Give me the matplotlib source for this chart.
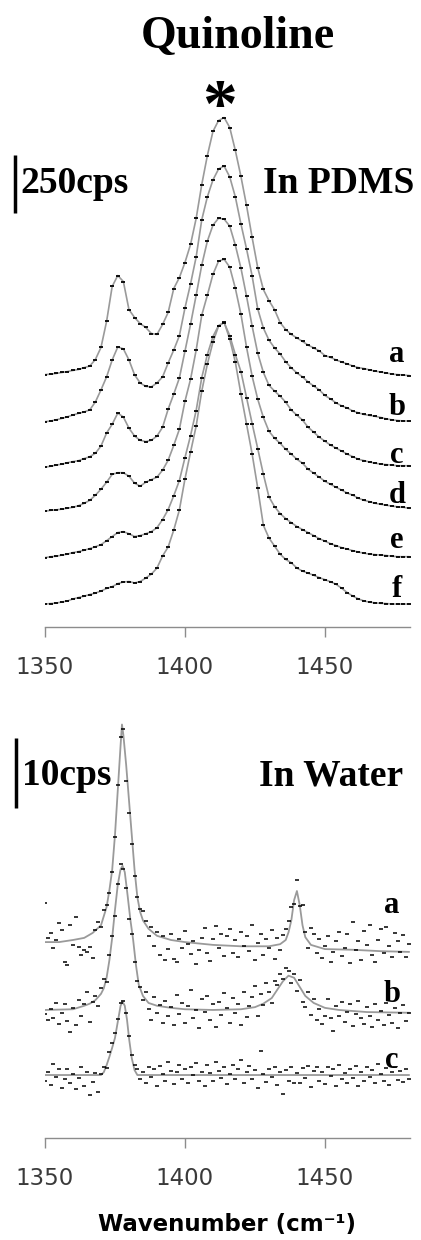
import matplotlib
matplotlib.use('Agg')
import matplotlib.pyplot as plt
import numpy as np

# --- quinoline Raman band, stacked spectra -------------------------------

# PDMS spectra (cps above own baseline), sampled every 2 cm-1
wn_pdms = np.arange(1350, 1481, 2)
pdms_a = [4, 6, 9, 13, 17, 22, 26, 34, 41, 69,
          121, 233, 384, 431, 405, 284, 250, 224, 207, 181,
          177, 220, 272, 375, 422, 487, 565, 677, 823, 948,
          1052, 1099, 1112, 1069, 970, 858, 733, 595, 465, 371,
          323, 284, 228, 198, 177, 162, 147, 131, 119, 106,
          86, 78, 67, 58, 50, 41, 34, 30, 24, 19,
          15, 11, 6, 4, 2, 0]
pdms_b = [1, 4, 9, 15, 22, 30, 37, 43, 52, 86,
          138, 194, 267, 323, 315, 267, 203, 168, 153, 151,
          168, 194, 254, 310, 371, 491, 595, 711, 871, 970,
          1043, 1090, 1103, 1056, 970, 853, 746, 629, 487, 405,
          353, 319, 293, 259, 233, 211, 194, 172, 155, 138,
          114, 99, 82, 69, 60, 47, 39, 32, 28, 24,
          19, 13, 9, 6, 4, 4]
pdms_c = [0, 4, 9, 13, 19, 24, 28, 37, 45, 60,
          91, 147, 185, 233, 216, 168, 134, 116, 110, 116,
          134, 172, 250, 315, 384, 500, 616, 741, 871, 974,
          1043, 1073, 1069, 1039, 957, 858, 737, 608, 491, 409,
          353, 328, 306, 280, 246, 224, 203, 172, 151, 129,
          112, 95, 82, 69, 56, 45, 34, 28, 22, 17,
          13, 11, 9, 6, 6, 6]
pdms_d = [0, 4, 6, 9, 13, 17, 24, 34, 47, 69,
          95, 125, 159, 166, 166, 151, 121, 108, 125, 136,
          147, 177, 220, 284, 353, 474, 569, 694, 845, 931,
          1021, 1078, 1086, 1052, 961, 849, 707, 582, 483, 405,
          345, 315, 293, 267, 246, 224, 207, 181, 164, 147,
          129, 116, 103, 91, 78, 69, 56, 47, 41, 34,
          30, 26, 22, 19, 17, 13]
pdms_e = [0, 4, 6, 11, 15, 22, 26, 32, 39, 47,
          56, 73, 91, 108, 112, 103, 91, 95, 103, 112,
          129, 164, 207, 267, 332, 431, 526, 634, 776, 875,
          953, 1000, 1013, 957, 875, 802, 690, 578, 470, 360,
          262, 220, 190, 168, 151, 134, 121, 108, 95, 82,
          71, 60, 52, 43, 37, 30, 24, 19, 15, 13,
          11, 9, 6, 4, 4, 4]
pdms_f = [0, 2, 4, 9, 13, 22, 28, 34, 41, 47,
          56, 67, 75, 88, 95, 97, 91, 97, 112, 129,
          155, 207, 246, 319, 405, 539, 655, 767, 918, 1034,
          1129, 1198, 1215, 1142, 1043, 905, 776, 647, 500, 340,
          285, 250, 215, 192, 178, 155, 142, 133, 124, 114,
          105, 96, 85, 68, 49, 34, 22, 13, 8, 5,
          3, 2, 0, 0, 0, 0]
pdms_labels = ['a', 'b', 'c', 'd', 'e', 'f']
pdms_offsets = [985, 785, 590, 400, 200, 0]

# Water spectra: measured points every 1 cm-1 plus fitted curves
wn_water = np.arange(1350, 1481, 1)
water_a_pts = [5.6, 0.6, 1.3, -0.9, 0.3, 2.7, 1.7, -2.8, -3.3, 2.4,
               -0.4, 3.6, -0.7, -1.9, -1.1, -1.4, -0.7, -2.3, 1.7, 2.9,
               2.2, 4.6, 5.3, 7.0, 10.0, 15.0, 22.5, 29.3, 30.4, 23.0,
               18.5, 14.0, 9.5, 6.5, 4.8, 4.5, 3.0, 0.8, 2.2, -0.6,
               1.5, -1.8, 0.9, -2.6, -1.0, 1.2, -2.4, -2.9, 0.4, -0.8,
               1.6, -0.3, -1.7, 0.2, -3.1, -1.2, 0.6, 2.0, -1.5, -2.7,
               0.5, 2.3, -0.9, 1.1, -2.0, 0.8, 1.8, -1.6, 0.3, -2.2,
               1.4, -0.5, 0.9, -1.3, 2.5, -2.6, -0.2, 1.2, -1.9, 0.4,
               -0.8, 1.7, -2.4, 0.6, -1.1, 1.0, 1.9, 3.0, 5.0, 5.4,
               8.9, 5.2, 5.3, 1.5, -0.8, 2.0, 1.2, -1.6, 0.4, -2.3,
               -0.6, 0.9, -2.8, -1.4, 0.2, 1.5, -2.0, -0.9, 1.1, -3.0,
               2.8, -1.2, 0.1, -2.5, 1.6, -0.4, 2.4, -1.9, -2.9, 0.3,
               1.9, -1.6, 2.1, -0.5, -2.2, 1.3, 0.2, -1.4, 1.0, -2.1,
               -0.3]
water_b_pts = [-0.6, -1.5, 0.2, -1.2, 1.0, -2.0, -0.4, 0.8, -1.6, -3.1,
               0.3, -2.2, 1.4, -0.8, 0.9, 2.5, -1.7, 1.2, 2.0, 0.6,
               3.2, 4.4, 4.0, 7.8, 10.5, 13.5, 18.0, 20.9, 20.2, 17.5,
               13.0, 10.8, 6.9, 4.1, 3.3, 1.4, 2.6, 0.2, -1.4, 1.9,
               -0.5, 0.7, -1.9, 1.3, -0.9, 0.4, -2.1, 2.2, -0.6, 1.0,
               -1.8, 0.5, 2.8, -1.1, 0.0, -2.6, 1.6, -0.3, 2.0, -1.5,
               0.8, -2.4, 1.2, -0.7, 2.4, 0.3, -1.9, 1.7, -0.4, 0.9,
               -2.2, 2.6, -1.0, 0.5, 1.8, 3.4, -0.8, 2.3, 0.7, 3.9,
               2.5, 1.0, 4.2, 3.6, 5.2, 4.4, 6.0, 5.6, 3.8, 5.1,
               2.7, 4.3, 1.2, 0.4, 2.6, -0.7, 1.6, -1.4, 0.2, -2.0,
               -0.9, 1.5, -1.2, -3.0, 0.6, -0.8, 1.1, -1.7, -0.3, 0.9,
               -2.3, -0.6, 1.3, -1.1, -2.0, 0.4, -0.9, -2.5, 0.8, -1.4,
               -0.2, -2.1, 1.0, -0.7, -1.8, 0.3, -2.6, -0.5, 0.7, -1.6,
               -0.4]
water_c_pts = [-0.8, 0.5, -1.4, 1.6, -0.3, 0.9, -1.9, -0.6, 0.8, -1.2,
               0.2, -2.0, -0.4, 1.1, -1.5, 0.5, -2.8, -1.0, 0.3, -2.4,
               0.1, 1.2, 1.0, 3.3, 4.6, 6.0, 8.0, 10.3, 10.6, 8.9,
               5.6, 2.9, 1.5, 0.8, -0.6, 0.4, -1.1, 1.2, -0.3, 0.9,
               -1.5, 1.3, 0.2, -0.9, 1.8, 0.6, -1.3, 0.4, 1.5, -0.5,
               0.9, -1.2, 1.1, 0.0, 1.7, -0.8, 0.5, -1.6, 1.4, 0.3,
               -0.9, 1.9, 0.6, -0.4, 1.2, -1.3, 0.2, 1.5, -0.6, 0.8,
               2.1, -1.1, 0.4, 1.3, -0.5, 0.7, -1.8, 3.5, 0.2, -1.0,
               0.9, -0.3, 1.2, -1.4, 0.5, -2.7, 0.7, -0.9, 1.1, -1.2,
               0.3, -1.2, 1.0, -0.4, 1.3, -1.7, 0.6, 1.1, -0.8, 0.4,
               -1.3, 1.2, -0.2, 0.8, -1.5, 1.4, -0.6, 0.3, -1.1, 0.9,
               -0.4, 1.3, -1.6, 0.5, -0.9, 1.1, -0.3, 0.7, -1.2, 1.6,
               0.2, -0.8, 1.0, -1.4, 0.4, 1.2, -0.7, 0.6, -1.0, 0.8,
               -0.5]

water_a_fit_x = [1350, 1355, 1360, 1364, 1367, 1370, 1372, 1373, 1374, 1375,
                 1376, 1377, 1377.5, 1378, 1379, 1380, 1381, 1382, 1383, 1384,
                 1385, 1387, 1390, 1395, 1400, 1410, 1420, 1430, 1434, 1436,
                 1437, 1438, 1439, 1440, 1441, 1442, 1443, 1445, 1450, 1460,
                 1470, 1480]
water_a_fit = [0, 0, 0.3, 0.6, 1.3, 2.4, 5.0, 7.4, 10.3, 15.3,
               21.7, 28.1, 31.1, 29.6, 25.3, 20.3, 15.3, 10.3, 6.4, 4.3,
               3.1, 1.9, 0.9, 0.3, 0, -0.4, -0.6, -0.6, -0.3, 0.3,
               1.4, 3.1, 6.0, 7.3, 5.3, 2.4, 0.7, -0.4, -1.0, -1.1,
               -1.3, -1.4]
water_b_fit_x = [1350, 1360, 1364, 1366, 1368, 1370, 1371, 1372, 1373, 1374,
                 1375, 1376, 1377, 1377.7, 1378.5, 1379.5, 1380.5, 1381.5, 1382.5, 1383.5,
                 1385, 1387, 1390, 1395, 1400, 1410, 1420, 1425, 1428, 1431,
                 1433, 1435, 1437, 1439, 1441, 1443, 1446, 1450, 1455, 1465,
                 1480]
water_b_fit = [0, 0.1, 0.6, 0.9, 1.4, 2.3, 3.1, 4.6, 7.1, 10.3,
               14.3, 17.9, 20.1, 20.6, 19.7, 16.4, 12.9, 10.0, 6.4, 3.6,
               2.0, 1.0, 0.6, 0.3, 0.1, 0, 0.1, 0.4, 0.9, 1.7,
               2.9, 4.1, 4.9, 4.6, 3.3, 2.0, 1.0, 0.3, 0, -0.3,
               -0.4]
water_c_fit_x = [1350, 1370, 1371, 1372, 1373, 1374, 1375, 1376, 1377, 1377.7,
                 1378.5, 1379.3, 1380.1, 1381, 1382, 1383, 1480]
water_c_fit = [0, 0, 0.4, 1.4, 2.6, 3.9, 5.3, 7.6, 9.9, 10.5,
               9.9, 7.9, 5.0, 2.4, 0.7, 0, 0]
water_labels = ['a', 'b', 'c']
water_offsets = [28.0, 18.3, 9.0]

# --- styling -------------------------------------------------------------
FIT_GREY = '#9a9a9a'
AXIS_GREY = '#8c8c8c'
SERIF = 'Liberation Serif'

fig = plt.figure(figsize=(4.21, 12.4), dpi=100)
ax1 = fig.add_axes([45 / 421, 1 - 627 / 1240, 365 / 421, 567 / 1240])
ax2 = fig.add_axes([45 / 421, 1 - 1138 / 1240, 365 / 421, 438 / 1240])


def style_axis(ax):
    for side in ('left', 'right', 'top'):
        ax.spines[side].set_visible(False)
    ax.spines['bottom'].set_color(AXIS_GREY)
    ax.spines['bottom'].set_linewidth(1.0)
    ax.set_yticks([])
    ax.set_xticks([1350, 1400, 1450])
    ax.tick_params(axis='x', direction='out', length=7, width=1.0, color=AXIS_GREY,
                   pad=14, labelsize=16.5, labelcolor='#3a3a3a')
    ax.set_xlim(1350, 1480.4)
    ax.patch.set_alpha(0)


def serif_text(ax, x, y, s, size, ha='left'):
    ax.text(x, y, s, fontfamily=SERIF, fontweight='bold', fontsize=size,
            ha=ha, va='baseline', clip_on=False)


style_axis(ax1)
style_axis(ax2)

# PDMS panel
ax1.set_ylim(-99, 2345)
pdms_spectra = [pdms_a, pdms_b, pdms_c, pdms_d, pdms_e, pdms_f]
pdms_label_y = [1044, 815, 608, 435, 241, 30]
for vals, off, lab, ly in zip(pdms_spectra, pdms_offsets, pdms_labels, pdms_label_y):
    y = np.array(vals) + off
    ax1.plot(wn_pdms, y, color=FIT_GREY, lw=1.2, zorder=2)
    ax1.plot(wn_pdms, y, ls='none', marker='_', ms=3.4, mew=1.3, color='black', zorder=3)
    serif_text(ax1, 1475.7, ly, lab, 22, ha='center')

ax1.plot([1339.3, 1339.3], [1685, 1935], color='black', lw=2.5,
         solid_capstyle='butt', clip_on=False)
serif_text(ax1, 1341.1, 1772, '250cps', 27)
serif_text(ax1, 1482.1, 1772, 'In PDMS', 27, ha='right')
serif_text(ax1, 1412.3, 2056, '*', 50, ha='center')

# water panel
ax2.set_ylim(0, 62.6)
water_fits = [(water_a_fit_x, water_a_fit), (water_b_fit_x, water_b_fit),
              (water_c_fit_x, water_c_fit)]
water_pts = [water_a_pts, water_b_pts, water_c_pts]
water_label_y = [32.1, 19.5, 10.0]
for (fx, fy), pts, off, lab, ly in zip(water_fits, water_pts, water_offsets,
                                       water_labels, water_label_y):
    ax2.plot(fx, np.array(fy) + off, color=FIT_GREY, lw=1.3, zorder=2)
    ax2.plot(wn_water, np.array(pts) + off, ls='none', marker='_', ms=2.8, mew=1.1,
             color='black', zorder=3)
    serif_text(ax2, 1474.0, ly, lab, 22, ha='center')

ax2.plot([1339.6, 1339.6], [47.1, 57.1], color='black', lw=2.5,
         solid_capstyle='butt', clip_on=False)
serif_text(ax2, 1341.8, 50.4, '10cps', 27)
serif_text(ax2, 1477.9, 50.4, 'In Water', 27, ha='right')

fig.text(238 / 421, 1 - 48 / 1240, 'Quinoline', fontfamily=SERIF, fontweight='bold',
         fontsize=33, ha='center', va='baseline')
fig.text(227 / 421, 1 - 1225 / 1240, 'Wavenumber (cm⁻¹)', fontfamily='DejaVu Sans',
         fontweight='bold', fontsize=16.5, ha='center', va='center')

fig.savefig('out.png', dpi=100)
